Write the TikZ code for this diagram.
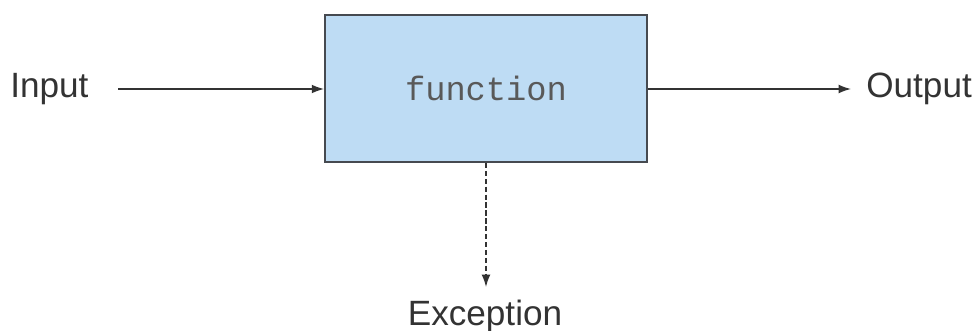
\documentclass[tikz,border=0pt]{standalone}
\usepackage{fontspec}
\setmainfont{Liberation Sans}
\newfontfamily\codefont{Liberation Mono}
\usetikzlibrary{arrows.meta, positioning}

\definecolor{boxblue}{RGB}{190,220,244}
\definecolor{edgegray}{RGB}{70,74,80}

\begin{document}
\begin{tikzpicture}[
    x=0.02cm, y=-0.02cm,
    funcbox/.style={rectangle, draw=edgegray, line width=1.1pt, fill=boxblue, minimum width=6.44cm, minimum height=2.94cm, font=\codefont\fontsize{19.2}{21}\selectfont, text=black!65},
    tag/.style={font=\fontsize{20}{22}\selectfont, text=black!80, inner sep=0pt},
    flow/.style={-{Latex[length=7pt, width=5pt]}, line width=0.8pt, draw=black!80}
]
\useasboundingbox (0,0) rectangle (975,331);

% Function box
\node[funcbox] (func) at (486,88.5) {function};

% Labels
\node[tag, anchor=base west] (input) at (10,98) {Input};
\node[tag, anchor=base west] (output) at (866,98) {Output};
\node[tag, anchor=base] (exc) at (485,326) {Exception};

% Arrow ends
\coordinate (instart) at (118,89);
\coordinate (outend) at (851,89);
\coordinate (excend) at (486,287);

% Arrows
\draw[flow] (instart) -- (func.west |- instart);
\draw[flow] (func.east |- outend) -- (outend);
\draw[flow, dash pattern=on 3pt off 1.5pt] (func.south -| excend) -- (excend);

\end{tikzpicture}
\end{document}
